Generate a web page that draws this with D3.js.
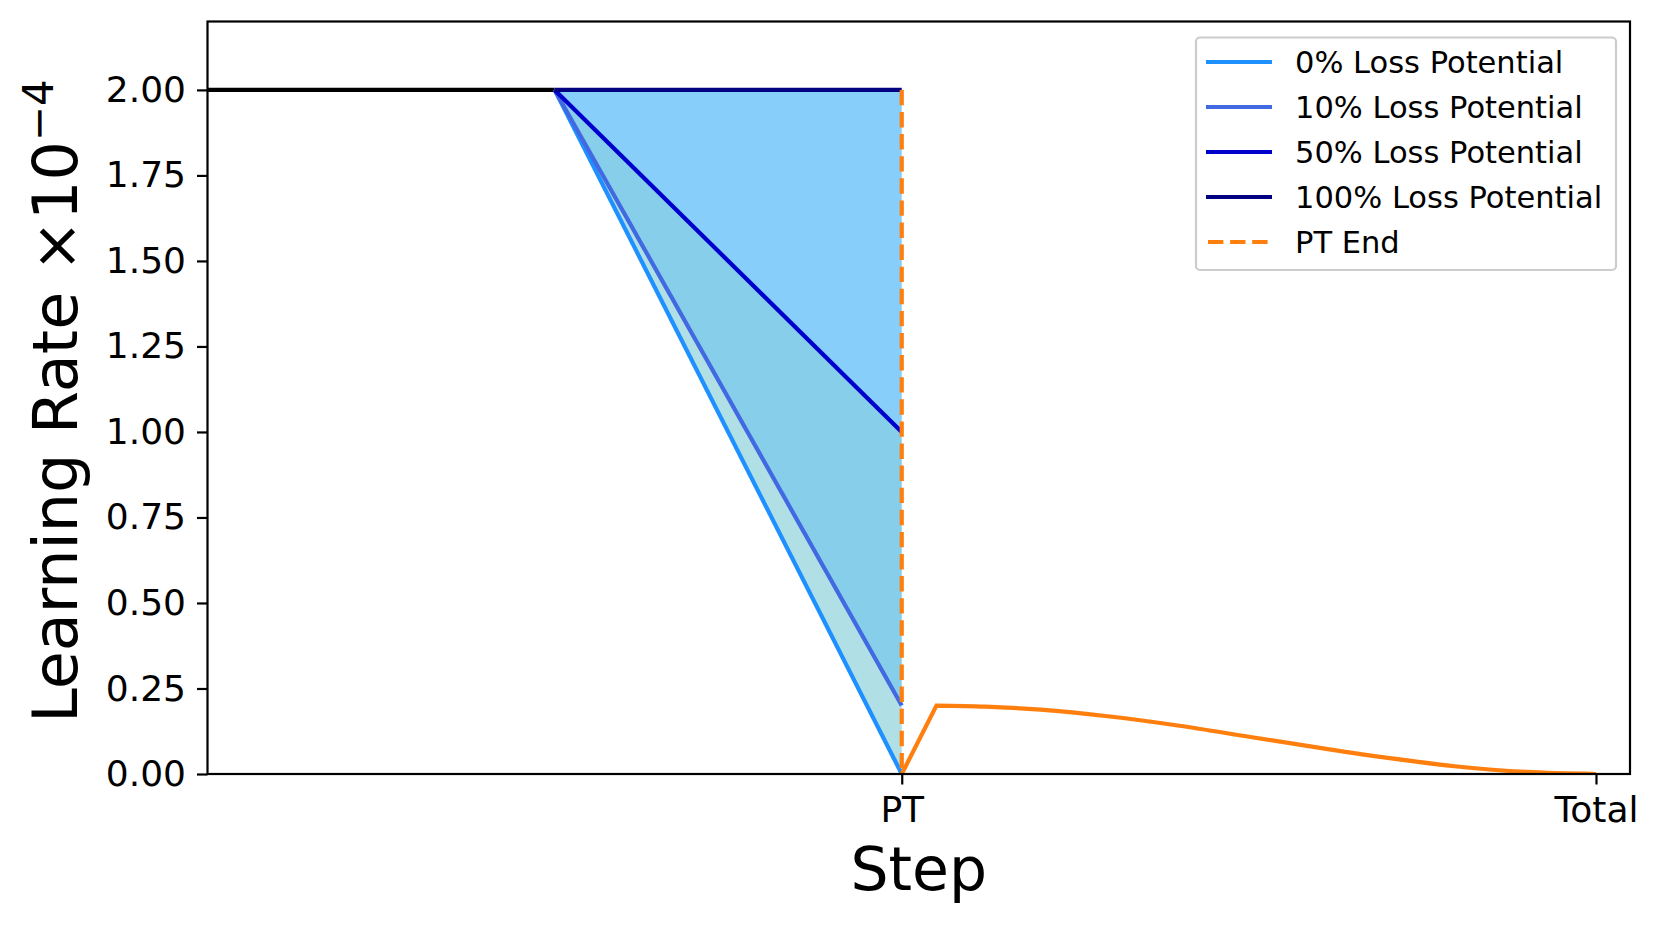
<!DOCTYPE html>
<html>
<head>
<meta charset="utf-8">
<script src="https://cdn.jsdelivr.net/npm/d3@7"></script>
<style>
  html, body { margin: 0; padding: 0; background: #ffffff; }
  svg { display: block; font-family: "DejaVu Sans", sans-serif; }
</style>
</head>
<body>
<svg id="chart" width="1661" height="925"></svg>
<script>
// ---------------- data ----------------
const xTickValues = [0.5, 1.0];
const xTickLabels = ["PT", "Total"];
const yTickValues = [0, 0.25, 0.5, 0.75, 1.0, 1.25, 1.5, 1.75, 2.0];

// constant phase (before decay)
const constX = [0, 0.25];
const constLR = [2.0, 2.0];

// decay phase, one series per loss potential
const decayX = [0.25, 0.5];
const seriesNames = ["0% Loss Potential", "10% Loss Potential", "50% Loss Potential", "100% Loss Potential"];
const lr0 = [2.0, 0.0];
const lr10 = [2.0, 0.2];
const lr50 = [2.0, 1.0];
const lr100 = [2.0, 2.0];
const seriesColors = ["#1e90ff", "#4169e1", "#0000cd", "#000080"];
const fillColors = ["#b0e0e6", "#87ceeb", "#87cefa"];

// PT end marker
const ptEndX = [0.5, 0.5];
const ptEndY = [2.0, 0.0];

// fine-tuning schedule after PT: linear rewarm, then smooth decay
const rewarmX = [0.5, 0.525];
const rewarmLR = [0.0, 0.2];
const ftX  = [0.525, 0.56, 0.6, 0.65, 0.7, 0.75, 0.8, 0.85, 0.9, 0.95, 1.0];
const ftLR = [0.2, 0.197, 0.188, 0.168, 0.141, 0.109, 0.077, 0.047, 0.022, 0.006, 0.0];

// ---------------- layout ----------------
const svg = d3.select("#chart");
const W = 1661, H = 925;
const m = { left: 207.5, right: 1630, top: 21.5, bottom: 774 };

const x = d3.scaleLinear().domain([0, 1.0245]).range([m.left, m.right]);
const y = d3.scaleLinear().domain([0, 2.2]).range([m.bottom, m.top]);

svg.append("rect").attr("width", W).attr("height", H).attr("fill", "#fff");

svg.append("defs").append("clipPath").attr("id", "plotclip")
  .append("rect").attr("x", m.left).attr("y", m.top)
  .attr("width", m.right - m.left).attr("height", m.bottom - m.top);

const plot = svg.append("g").attr("clip-path", "url(#plotclip)");

const allSeries = [lr0, lr10, lr50, lr100];
const pts = arr => arr.map((v, i) => [decayX[i], v]);

// fills between consecutive series
for (let k = 0; k < 3; k++) {
  const lo = allSeries[k], hi = allSeries[k + 1];
  const area = d3.area()
    .x((d, i) => x(decayX[i]))
    .y0((d, i) => y(lo[i]))
    .y1((d, i) => y(hi[i]));
  plot.append("path").datum(decayX).attr("d", area)
    .attr("fill", fillColors[k]).attr("stroke", "none");
}

const line = d3.line().x(d => x(d[0])).y(d => y(d[1]));

// constant phase
plot.append("path").datum(constX.map((v, i) => [v, constLR[i]]))
  .attr("d", line).attr("fill", "none").attr("stroke", "#000").attr("stroke-width", 4.2);

// decay lines
allSeries.forEach((s, k) => {
  plot.append("path").datum(pts(s)).attr("d", line)
    .attr("fill", "none").attr("stroke", seriesColors[k])
    .attr("stroke-width", 4.2).attr("stroke-linecap", "butt");
});

// PT end dashed
plot.append("path").datum(ptEndX.map((v, i) => [v, ptEndY[i]])).attr("d", line)
  .attr("fill", "none").attr("stroke", "#ff7f0e").attr("stroke-width", 4.2)
  .attr("stroke-dasharray", "15.4,6.7");

// fine-tune schedule: straight rewarm + smooth decay in one path
const rewarmPath = line(rewarmX.map((v, i) => [v, rewarmLR[i]]));
const decayPath = d3.line().x(d => x(d[0])).y(d => y(d[1])).curve(d3.curveMonotoneX)(ftX.map((v, i) => [v, ftLR[i]]));
plot.append("path")
  .attr("d", rewarmPath + decayPath.replace(/^M/, "L"))
  .attr("fill", "none").attr("stroke", "#ff7f0e").attr("stroke-width", 4.2)
  .attr("stroke-linejoin", "miter");

// ---------------- axes ----------------
const xAxis = d3.axisBottom(x).tickValues(xTickValues)
  .tickFormat((d, i) => xTickLabels[i]).tickSize(10.5).tickPadding(12);
const gx = svg.append("g").attr("transform", `translate(0,${m.bottom})`).call(xAxis);
gx.select(".domain").remove();
gx.selectAll(".tick line").attr("stroke", "#000").attr("stroke-width", 2.2);
gx.selectAll(".tick text").attr("font-size", 36).attr("fill", "#000")
  .attr("font-family", "DejaVu Sans");

const yAxis = d3.axisLeft(y).tickValues(yTickValues)
  .tickFormat(d3.format(".2f")).tickSize(10.5).tickPadding(11);
const gy = svg.append("g").attr("transform", `translate(${m.left},0)`).call(yAxis);
gy.select(".domain").remove();
gy.selectAll(".tick line").attr("stroke", "#000").attr("stroke-width", 2.2);
gy.selectAll(".tick text").attr("font-size", 36).attr("fill", "#000")
  .attr("font-family", "DejaVu Sans");

// spines
svg.append("rect").attr("x", m.left).attr("y", m.top)
  .attr("width", m.right - m.left).attr("height", m.bottom - m.top)
  .attr("fill", "none").attr("stroke", "#000").attr("stroke-width", 2.2);

// axis labels
svg.append("text").attr("x", (m.left + m.right) / 2).attr("y", 890)
  .attr("text-anchor", "middle").attr("font-size", 60).attr("fill", "#000")
  .text("Step");

const yl = svg.append("text")
  .attr("transform", `translate(77,401) rotate(-90)`)
  .attr("text-anchor", "middle").attr("font-size", 62).attr("fill", "#000");
yl.append("tspan").text("Learning Rate \u00d710");
yl.append("tspan").attr("font-size", 42).attr("dy", -24).text("\u22124");

// ---------------- legend ----------------
const lg = svg.append("g");
lg.append("rect").attr("x", 1196).attr("y", 37.5).attr("width", 420).attr("height", 232.5)
  .attr("rx", 4).attr("fill", "#fff").attr("fill-opacity", 0.8)
  .attr("stroke", "#cccccc").attr("stroke-width", 2.2);

const legendItems = seriesNames.map((n, i) => ({ name: n, color: seriesColors[i], dash: null }))
  .concat([{ name: "PT End", color: "#ff7f0e", dash: "15.4,6.7" }]);
const rowY = d3.scalePoint().domain(d3.range(legendItems.length)).range([62, 242]);

legendItems.forEach((it, i) => {
  const cy = rowY(i);
  const ln = lg.append("line").attr("x1", 1206).attr("x2", 1272).attr("y1", cy).attr("y2", cy)
    .attr("stroke", it.color).attr("stroke-width", 4.2);
  if (it.dash) ln.attr("stroke-dasharray", it.dash).attr("x1", 1208).attr("x2", 1272);
  lg.append("text").attr("x", 1295).attr("y", cy + 11.2).attr("font-size", 30.5)
    .attr("fill", "#000").text(it.name);
});
</script>
</body>
</html>
